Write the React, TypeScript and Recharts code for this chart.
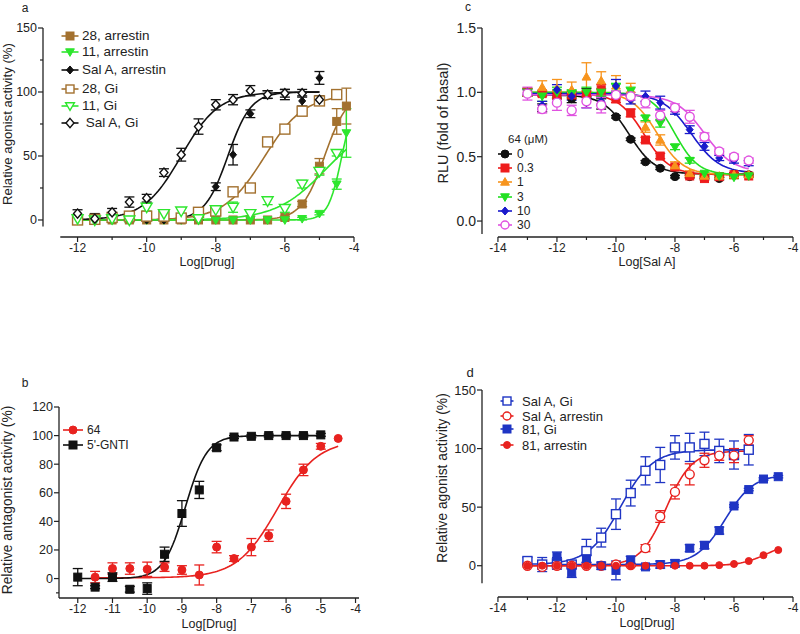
import React from 'react';
import { ComposedChart, Line, Scatter, XAxis, YAxis, ErrorBar, ReferenceLine } from 'recharts';

const FONT = '"Liberation Sans", Arial, sans-serif';
const INK = '#222';

// ---- panel a: agonist activity ----
const aDose = [-12, -11.5, -11, -10.5, -10, -9.5, -9, -8.5, -8, -7.5, -7, -6.5, -6, -5.5, -5, -4.5, -4.22];
const a28Arr = [0, 0, 0, 0, 0, 0, 0, 0, 0, 0, 0, 0, 2, 12.5, 42, 77, 89];
const a28ArrErr = [0, 0, 0, 0, 0, 0, 0, 0, 0, 0, 0, 0, 1, 2, 6, 10, 14];
const a11Arr = [0, 0, 0, 0, 0, 0, 0, 0, 0, 0, 0, 0, 0, 1, 5, 28, 68];
const a11ArrErr = [0, 0, 0, 0, 0, 0, 0, 0, 0, 0, 0, 0, 0, 1, 1, 4, 19];
const aSalAArr = [0, 0, 0, 0, 0, 0, 0, 2, 26, 51, 83, 98, 98, 93, 111, null, null];
const aSalAArrErr = [0, 0, 0, 0, 0, 0, 0, 2, 3, 8, 3, 3, 4, 4, 5, 0, 0];
const a28Gi = [0, 0.5, 2, 3, 3, 3, 1.5, 6, 7, 22, 25, 61, 71, 85, 93, 98, null];
const a11Gi = [1, 0, 1, 0, 10, 5, 7, 1, 8, 10, 5, 15, 9, 28, 38, 52, null];
const a11GiErr = [1, 1, 1, 2, 3, 2, 2, 1, 3, 4, 2, 3, 3, 3, 3, 2, 0];
const aSalAGi = [5, 1, 6, 14, 17, 37, 51, 73, 90, 94, 101, 98, 99, 99, 94, null, null];
const aSalAGiErr = [3, 4, 3, 4, 3, 3, 5, 6, 4, 4, 4, 3, 3, 3, 3, 0, 0];
// fitted curves: [bottom, top, logEC50, hill, from, to]
const a28ArrFit = [0, 100, -4.85, 1.3, -12, -4.22];
const a11ArrFit = [0, 100, -4.35, 2.2, -12, -4.22];
const aSalAArrFit = [0, 100, -7.65, 1.3, -12, -5];
const a28GiFit = [0, 98, -6.6, 0.75, -12, -4.5];
const a11GiFit = [0, 80, -4.8, 0.6, -12, -4.22];
const aSalAGiFit = [0, 100, -9.0, 0.8, -12, -5];

// ---- panel b: antagonist activity ----
const bDose = [-12, -11.5, -11, -10.5, -10, -9.5, -9, -8.5, -8, -7.5, -7, -6.5, -6, -5.5, -5, -4.5];
const b64 = [null, 1, 7, 7, 6.5, 8, 6, 2.5, 22, 14, 22, 30, 54, 76, 92.5, 98];
const b64Err = [0, 4, 4, 4, 5, 3, 3, 7, 4, 2, 6, 4, 5, 4, 2, 0];
const bGnti = [1, -6, 1, -7.5, -7, 17, 45.5, 62, 91.5, 99, 99.5, 100, 100, 100, 100.5, null];
const bGntiErr = [6, 1, 3, 2, 4, 5, 9, 6, 2, 1, 1, 1, 1, 1, 1, 0];
const b64Fit = [0.5, 97, -6.25, 0.75, -11.5, -4.5];
const bGntiFit = [0, 100, -8.9, 1.4, -12, -5];

// ---- panel c: RLU vs Sal A with 64 ----
const cDose = [-13, -12.5, -12, -11.5, -11, -10.5, -10, -9.5, -9, -8.5, -8, -7.5, -7, -6.5, -6, -5.5];
const c0 = [1.0, 0.88, 0.97, 0.95, 1.0, 0.91, 0.81, 0.635, 0.46, 0.41, 0.345, 0.345, 0.34, 0.33, 0.365, 0.36];
const c0Err = [0.03, 0.03, 0.02, 0.03, 0.03, 0.04, 0.01, 0.01, 0.01, 0.01, 0.01, 0.01, 0.01, 0.01, 0.01, 0.01];
const c03 = [1.0, 0.99, 0.98, 0.98, 0.99, 1.02, 0.95, 0.84, 0.63, 0.505, 0.42, 0.35, 0.33, 0.345, 0.36, 0.35];
const c03Err = [0.03, 0.02, 0.03, 0.03, 0.02, 0.04, 0.03, 0.03, 0.02, 0.02, 0.02, 0.01, 0.01, 0.01, 0.01, 0.01];
const c1 = [1.0, 1.04, 1.03, 1.02, 1.12, 1.09, 1.05, 1.02, 0.73, 0.63, 0.43, 0.37, 0.35, 0.35, 0.36, 0.36];
const c1Err = [0.03, 0.05, 0.07, 0.06, 0.11, 0.07, 0.08, 0.05, 0.04, 0.04, 0.03, 0.02, 0.01, 0.01, 0.01, 0.01];
const c3 = [1.0, 0.97, 1.0, 0.99, 1.0, 1.0, 1.04, 1.01, 0.8, 0.76, 0.575, 0.47, 0.37, 0.35, 0.34, 0.35];
const c3Err = [0.03, 0.04, 0.04, 0.03, 0.04, 0.03, 0.03, 0.03, 0.02, 0.03, 0.02, 0.02, 0.01, 0.01, 0.01, 0.01];
const c10 = [1.0, 0.9, 1.02, 0.97, 0.92, 0.93, 1.05, 0.94, 0.97, 0.92, 0.85, 0.71, 0.58, 0.49, 0.47, 0.45];
const c10Err = [0.02, 0.03, 0.04, 0.03, 0.04, 0.03, 0.05, 0.03, 0.04, 0.05, 0.02, 0.03, 0.03, 0.02, 0.02, 0.02];
const c30 = [0.99, 0.87, 0.92, 0.86, 0.93, 0.9, 0.98, 0.97, 0.92, 0.82, 0.88, 0.81, 0.655, 0.54, 0.5, 0.47];
const c30Err = [0.05, 0.03, 0.06, 0.04, 0.05, 0.06, 0.03, 0.03, 0.04, 0.04, 0.03, 0.05, 0.03, 0.02, 0.02, 0.02];
// inhibition curves: negative hill slope
const c0Fit = [0.365, 0.98, -9.55, -1.0, -13, -5.5];
const c03Fit = [0.36, 0.99, -9.05, -1.0, -13, -5.5];
const c1Fit = [0.36, 1.0, -8.6, -1.0, -13, -5.5];
const c3Fit = [0.36, 1.0, -8.0, -1.1, -13, -5.5];
const c10Fit = [0.37, 0.99, -7.45, -0.9, -13, -5.5];
const c30Fit = [0.38, 0.98, -7.0, -0.9, -13, -5.5];

// ---- panel d: 81 vs Sal A ----
const dDose = [-13, -12.5, -12, -11.5, -11, -10.5, -10, -9.5, -9, -8.5, -8, -7.5, -7, -6.5, -6, -5.5, -5, -4.5];
const dSalAGi = [4, 1, 2, 1, 12.5, 24, 44, 62, 81, 86, 101, 101, 104, 98, 94.5, 99, null, null];
const dSalAGiErr = [3, 6, 5, 3, 10, 8, 13, 11, 12, 15, 10, 12, 10, 10, 12, 13, 0, 0];
const dSalAArr = [0, -1, 0, 0, 0, 0, 1, 0.5, 15, 42, 63, 78, 90, 94, 94, 107, null, null];
const dSalAArrErr = [1, 1, 1, 1, 1, 1, 1, 1, 3, 5, 6, 9, 6, 4, 6, 4, 0, 0];
const d81Gi = [null, null, 7.7, -6, 6, 0, -4, 5, -1, 1, 2, 15, 17.5, 30, 51, 65, 74, 76];
const d81GiErr = [0, 0, 4, 4, 3, 3, 8, 3, 2, 3, 3, 3, 3, 3, 1, 1, 1, 1];
const d81Arr = [0, 0, 0, 0, 0, 0, 0, 0, 0, 0, 0, 0, 0, 0.5, 1.5, 4, 9, 13.4];
const dSalAGiFit = [1, 99, -9.85, 0.8, -13, -5.5];
const dSalAArrFit = [0, 98, -8.3, 1.0, -13, -5.5];
const d81GiFit = [1, 78, -6.3, 0.9, -12, -4.5];
const d81ArrFit = [0, 20, -4.9, 1.0, -13, -4.5];

type Shape = 'circle' | 'square' | 'diamond' | 'triUp' | 'triDown';

function points(dose: number[], ys: (number | null)[], errs?: number[]) {
  const out: { x: number; y: number; e: number }[] = [];
  dose.forEach((x, i) => {
    const y = ys[i];
    if (y !== null && y !== undefined) out.push({ x, y, e: errs ? errs[i] : 0 });
  });
  return out;
}

function hillCurve(fit: number[]) {
  const [bottom, top, ec50, hill, from, to] = fit;
  const out: { x: number; y: number }[] = [];
  const n = 120;
  for (let i = 0; i <= n; i++) {
    const x = from + ((to - from) * i) / n;
    out.push({ x, y: bottom + (top - bottom) / (1 + Math.pow(10, (ec50 - x) * hill)) });
  }
  return out;
}

function Mark({ cx, cy, shape, color, filled, size }: any) {
  const r = size / 2;
  const fill = filled ? color : '#fff';
  const sw = filled ? 1 : 1.4;
  if (cx == null || cy == null) return null;
  switch (shape as Shape) {
    case 'circle':
      return <circle cx={cx} cy={cy} r={r} fill={fill} stroke={color} strokeWidth={sw} />;
    case 'square':
      return <rect x={cx - r} y={cy - r} width={size} height={size} fill={fill} stroke={color} strokeWidth={sw} />;
    case 'diamond':
      return (
        <polygon
          points={`${cx},${cy - r * 1.15} ${cx + r},${cy} ${cx},${cy + r * 1.15} ${cx - r},${cy}`}
          fill={fill}
          stroke={color}
          strokeWidth={sw}
        />
      );
    case 'triUp':
      return (
        <polygon
          points={`${cx},${cy - r * 1.1} ${cx + r * 1.1},${cy + r * 0.8} ${cx - r * 1.1},${cy + r * 0.8}`}
          fill={fill}
          stroke={color}
          strokeWidth={sw}
        />
      );
    default:
      return (
        <polygon
          points={`${cx},${cy + r * 1.1} ${cx + r * 1.1},${cy - r * 0.8} ${cx - r * 1.1},${cy - r * 0.8}`}
          fill={fill}
          stroke={color}
          strokeWidth={sw}
        />
      );
  }
}

interface Series {
  name: string;
  color: string;
  shape: Shape;
  filled: boolean;
  size: number;
  pts: { x: number; y: number; e: number }[];
  curve: { x: number; y: number }[];
  err: boolean;
}

const mk = (
  name: string,
  color: string,
  shape: Shape,
  filled: boolean,
  size: number,
  dose: number[],
  ys: (number | null)[],
  errs: number[] | undefined,
  fit: number[]
): Series => ({ name, color, shape, filled, size, pts: points(dose, ys, errs), curve: hillCurve(fit), err: !!errs });

const BROWN = '#a3712f';
const GREEN = '#2ee62e';
const BLACK = '#111';
const RED = '#e8221f';
const BLUE_D = '#1f35c4';

const seriesA: Series[] = [
  mk('28, arrestin', BROWN, 'square', true, 8, aDose, a28Arr, a28ArrErr, a28ArrFit),
  mk('11, arrestin', GREEN, 'triDown', true, 8, aDose, a11Arr, a11ArrErr, a11ArrFit),
  mk('Sal A, arrestin', BLACK, 'diamond', true, 7, aDose, aSalAArr, aSalAArrErr, aSalAArrFit),
  mk('28, Gi', BROWN, 'square', false, 10, aDose, a28Gi, undefined, a28GiFit),
  mk('11, Gi', GREEN, 'triDown', false, 10, aDose, a11Gi, a11GiErr, a11GiFit),
  mk(' Sal A, Gi', BLACK, 'diamond', false, 8, aDose, aSalAGi, aSalAGiErr, aSalAGiFit),
];

const seriesB: Series[] = [
  mk('64', RED, 'circle', true, 8, bDose, b64, b64Err, b64Fit),
  mk("5'-GNTI", BLACK, 'square', true, 8, bDose, bGnti, bGntiErr, bGntiFit),
];

const seriesC: Series[] = [
  mk('0', BLACK, 'circle', true, 8, cDose, c0, c0Err, c0Fit),
  mk('0.3', '#ee1c1c', 'square', true, 8, cDose, c03, c03Err, c03Fit),
  mk('1', '#f7941d', 'triUp', true, 8, cDose, c1, c1Err, c1Fit),
  mk('3', '#22e022', 'triDown', true, 8, cDose, c3, c3Err, c3Fit),
  mk('10', '#1a1acc', 'diamond', true, 7, cDose, c10, c10Err, c10Fit),
  mk('30', '#e052e0', 'circle', false, 9, cDose, c30, c30Err, c30Fit),
];

const seriesD: Series[] = [
  mk('Sal A, Gi', BLUE_D, 'square', false, 9, dDose, dSalAGi, dSalAGiErr, dSalAGiFit),
  mk('Sal A, arrestin', RED, 'circle', false, 9, dDose, dSalAArr, dSalAArrErr, dSalAArrFit),
  mk('81, Gi', BLUE_D, 'square', true, 8, dDose, d81Gi, d81GiErr, d81GiFit),
  mk('81, arrestin', RED, 'circle', true, 7, dDose, d81Arr, undefined, d81ArrFit),
];

const makeXTick = (labeled: (v: number) => boolean, fs: number) => (props: any) => {
  const { x, y, payload } = props;
  const v = payload.value;
  const major = labeled(v);
  return (
    <g>
      <line x1={x} x2={x} y1={y} y2={y + (major ? 5 : 3)} stroke={INK} strokeWidth={1.2} />
      {major && (
        <text x={x} y={y + 15} textAnchor="middle" fontSize={fs} fill={INK} fontFamily={FONT}>
          {String(v)}
        </text>
      )}
    </g>
  );
};

const makeYTick = (fmt: (v: number) => string | null, fs: number) => (props: any) => {
  const { x, y, payload } = props;
  const label = fmt(payload.value);
  return (
    <g>
      <line x1={x - (label === null ? 3 : 5)} x2={x} y1={y} y2={y} stroke={INK} strokeWidth={1.2} />
      {label !== null && (
        <text x={x - 6} y={y} dy="0.35em" textAnchor="end" fontSize={fs} fill={INK} fontFamily={FONT}>
          {label}
        </text>
      )}
    </g>
  );
};

interface PanelProps {
  left: number;
  top: number;
  width: number;
  height: number;
  margin: { top: number; right: number; bottom: number; left: number };
  xDomain: [number, number];
  yDomain: [number, number];
  xTicks: number[];
  yTicks: number[];
  xLabeled: (v: number) => boolean;
  yFmt: (v: number) => string | null;
  yTickFont: number;
  xLine: [number, number, number];
  yLine: [number, number, number];
  series: Series[];
}

function Panel(p: PanelProps) {
  return (
    <div style={{ position: 'absolute', left: p.left, top: p.top }}>
      <ComposedChart width={p.width} height={p.height} margin={p.margin}>
        <XAxis
          type="number"
          dataKey="x"
          domain={p.xDomain}
          ticks={p.xTicks}
          interval={0}
          allowDataOverflow
          axisLine={false}
          tickLine={false}
          tickSize={0}
          tickMargin={0}
          height={30}
          tick={makeXTick(p.xLabeled, 12)}
        />
        <YAxis
          type="number"
          dataKey="y"
          domain={p.yDomain}
          ticks={p.yTicks}
          interval={0}
          allowDataOverflow
          axisLine={false}
          tickLine={false}
          tickSize={0}
          tickMargin={0}
          width={40}
          tick={makeYTick(p.yFmt, p.yTickFont)}
        />
        <ReferenceLine
          segment={[
            { x: p.xLine[0], y: p.xLine[2] },
            { x: p.xLine[1], y: p.xLine[2] },
          ]}
          stroke={INK}
          strokeWidth={1.3}
          ifOverflow="visible"
        />
        <ReferenceLine
          segment={[
            { x: p.yLine[2], y: p.yLine[0] },
            { x: p.yLine[2], y: p.yLine[1] },
          ]}
          stroke={INK}
          strokeWidth={1.3}
          ifOverflow="visible"
        />
        {p.series.map((s) => (
          <Line
            key={'l' + s.name}
            data={s.curve}
            dataKey="y"
            type="linear"
            stroke={s.color}
            strokeWidth={1.6}
            dot={false}
            activeDot={false}
            isAnimationActive={false}
          />
        ))}
        {p.series.map((s) => (
          <Scatter
            key={'s' + s.name}
            data={s.pts}
            isAnimationActive={false}
            shape={(props: any) => (
              <Mark cx={props.cx} cy={props.cy} shape={s.shape} color={s.color} filled={s.filled} size={s.size} />
            )}
          >
            {s.err && <ErrorBar dataKey="e" direction="y" width={5} stroke={s.color} strokeWidth={1.3} />}
          </Scatter>
        ))}
      </ComposedChart>
    </div>
  );
}

function Txt({ x, y, text, size, rotate }: { x: number; y: number; text: string; size: number; rotate?: boolean }) {
  return (
    <div
      style={{
        position: 'absolute',
        left: x,
        top: y,
        transform: `translate(-50%, -50%)${rotate ? ' rotate(-90deg)' : ''}`,
        whiteSpace: 'nowrap',
        fontSize: size,
        fontFamily: FONT,
        color: INK,
        lineHeight: 1,
      }}
    >
      {text}
    </div>
  );
}

function Legend({
  series,
  rows,
  mx,
  tx,
  lineLen,
  size,
}: {
  series: Series[];
  rows: number[];
  mx: number;
  tx: number;
  lineLen: number;
  size: number;
}) {
  return (
    <>
      {series.map((s, i) => (
        <div key={s.name} style={{ position: 'absolute', left: 0, top: 0 }}>
          <svg style={{ position: 'absolute', left: mx - 12, top: rows[i] - 8 }} width={24} height={16}>
            <line x1={12 - lineLen / 2} x2={12 + lineLen / 2} y1={8} y2={8} stroke={s.color} strokeWidth={1.6} />
            <Mark cx={12} cy={8} shape={s.shape} color={s.color} filled={s.filled} size={Math.min(s.size, 8)} />
          </svg>
          <div
            style={{
              position: 'absolute',
              left: tx,
              top: rows[i],
              transform: 'translateY(-50%)',
              whiteSpace: 'pre',
              fontSize: size,
              fontFamily: FONT,
              color: INK,
              lineHeight: 1,
            }}
          >
            {s.name}
          </div>
        </div>
      ))}
    </>
  );
}

const evenLabel = (v: number) => v % 2 === 0;
const allLabel = () => true;

export default function App() {
  return (
    <div style={{ position: 'absolute', left: 0, top: 0, width: 800, height: 634, background: '#fff', overflow: 'hidden' }}>
      {/* a */}
      <Panel
        left={0}
        top={0}
        width={400}
        height={300}
        margin={{ top: 28, right: 46, bottom: 33, left: 3 }}
        xDomain={[-13, -4]}
        yDomain={[-13.3, 150]}
        xTicks={[-12, -11, -10, -9, -8, -7, -6, -5, -4]}
        yTicks={[0, 25, 50, 75, 100, 125, 150]}
        xLabeled={evenLabel}
        yFmt={(v) => (v % 50 === 0 ? String(v) : null)}
        yTickFont={12.5}
        xLine={[-12.5, -4, -13.3]}
        yLine={[-5, 150, -13]}
        series={seriesA}
      />
      {/* c */}
      <Panel
        left={400}
        top={0}
        width={400}
        height={300}
        margin={{ top: 28, right: 7, bottom: 33, left: 42 }}
        xDomain={[-14.54, -4]}
        yDomain={[-0.124, 1.5]}
        xTicks={[-14, -13, -12, -11, -10, -9, -8, -7, -6, -5, -4]}
        yTicks={[0, 0.5, 1, 1.5]}
        xLabeled={evenLabel}
        yFmt={(v) => v.toFixed(1)}
        yTickFont={14}
        xLine={[-14, -4, -0.124]}
        yLine={[-0.1, 1.5, -14.54]}
        series={seriesC}
      />
      {/* b */}
      <Panel
        left={0}
        top={300}
        width={400}
        height={334}
        margin={{ top: 107, right: 41, bottom: 6, left: 19 }}
        xDomain={[-12.54, -3.9]}
        yDomain={[-13.6, 120]}
        xTicks={[-12, -11, -10, -9, -8, -7, -6, -5, -4]}
        yTicks={[-10, 0, 20, 40, 60, 80, 100, 120]}
        xLabeled={allLabel}
        yFmt={(v) => (v < 0 ? null : String(v))}
        yTickFont={12.5}
        xLine={[-12.54, -3.9, -13.6]}
        yLine={[-13.6, 120, -12.54]}
        series={seriesB}
      />
      {/* d */}
      <Panel
        left={400}
        top={300}
        width={400}
        height={334}
        margin={{ top: 90, right: 7, bottom: 7, left: 42 }}
        xDomain={[-14.54, -4]}
        yDomain={[-26.7, 150]}
        xTicks={[-14, -13, -12, -11, -10, -9, -8, -7, -6, -5, -4]}
        yTicks={[0, 50, 100, 150]}
        xLabeled={evenLabel}
        yFmt={(v) => String(v)}
        yTickFont={13}
        xLine={[-14, -4, -26.7]}
        yLine={[-15, 150, -14.54]}
        series={seriesD}
      />

      <Txt x={25} y={8} text="a" size={12} />
      <Txt x={468} y={7} text="c" size={12} />
      <Txt x={25} y={383} text="b" size={12} />
      <Txt x={470} y={372} text="d" size={13} />

      <Txt x={207} y={262} text="Log[Drug]" size={12.5} />
      <Txt x={8} y={124} text="Relative agonist activity (%)" size={13.2} rotate />
      <Txt x={647} y={262} text="Log[Sal A]" size={12.5} />
      <Txt x={443} y={123} text="RLU (fold of basal)" size={14.5} rotate />
      <Txt x={209} y={624} text="Log[Drug]" size={12.5} />
      <Txt x={8} y={500} text="Relative antagonist activity (%)" size={13.8} rotate />
      <Txt x={647} y={623} text="Log[Drug]" size={12.5} />
      <Txt x={443} y={478} text="Relative agonist activity (%)" size={13.8} rotate />

      <Legend series={seriesA} rows={[35.7, 52.3, 70, 89, 106, 122.7]} mx={70} tx={82} lineLen={17} size={13.5} />
      <div
        style={{ position: 'absolute', left: 508, top: 140, transform: 'translateY(-50%)', fontSize: 11.5, fontFamily: FONT, color: INK, lineHeight: 1 }}
      >
        64 (μM)
      </div>
      <Legend series={seriesC} rows={[154, 168.2, 182.4, 196.6, 210.8, 225]} mx={505} tx={517} lineLen={14} size={12} />
      <Legend series={seriesB} rows={[430, 445]} mx={73} tx={87} lineLen={20} size={12} />
      <Legend series={seriesD} rows={[400.7, 415.7, 429.3, 445]} mx={507} tx={522} lineLen={13} size={13} />
    </div>
  );
}
